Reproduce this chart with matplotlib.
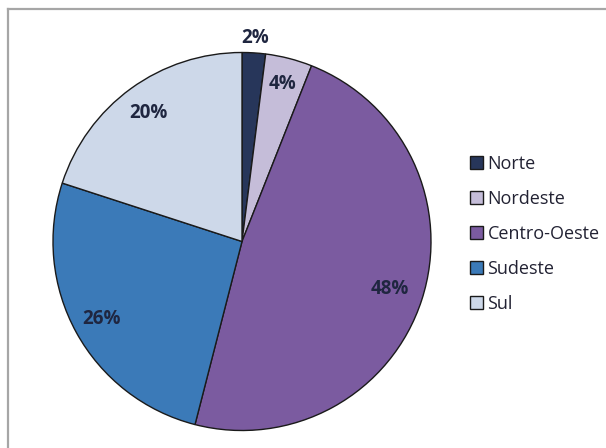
import numpy as np
import matplotlib
matplotlib.use("Agg")
import matplotlib.pyplot as plt
from matplotlib.lines import Line2D

# data
REGIONS = ["Norte", "Nordeste", "Centro-Oeste", "Sudeste", "Sul"]
SHARES = [2, 4, 48, 26, 20]

# style
COLORS = ["#27365a", "#c5bdd9", "#7b5ba0", "#3b7ab8", "#cdd8e9"]
LABEL_DIST = [1.08, 0.86, 0.82, 0.85, 0.84]
TEXT_COLOR = "#1f2640"
FIG_W, FIG_H = 606, 448
DPI = 100

plt.rcParams["font.family"] = ["Open Sans", "DejaVu Sans"]

fig = plt.figure(figsize=(FIG_W / DPI, FIG_H / DPI), dpi=DPI)
fig.patch.set_facecolor("white")

# frame: only top and left edges are visible (cropped screenshot)
fx, fy = 7.5 / FIG_W, 1 - 9.5 / FIG_H
fig.add_artist(Line2D([fx, 1], [fy, fy], transform=fig.transFigure,
                      color="#a6a6a6", linewidth=1.6))
fig.add_artist(Line2D([fx, fx], [0, fy], transform=fig.transFigure,
                      color="#a6a6a6", linewidth=1.6))

# pie occupies a square box centred at (242, 241.5) px, radius 189 px
cx, cy, r = 242, 241.5, 189
ax = fig.add_axes([(cx - r) / FIG_W, (FIG_H - cy - r) / FIG_H,
                   2 * r / FIG_W, 2 * r / FIG_H])
wedges, _ = ax.pie(
    SHARES,
    colors=COLORS,
    startangle=90,
    counterclock=False,
    radius=1,
    wedgeprops=dict(edgecolor="#1a1a1a", linewidth=1.0),
)
ax.set_xlim(-1, 1)
ax.set_ylim(-1, 1)
ax.set_aspect("equal")
ax.axis("off")

for w, val, d in zip(wedges, SHARES, LABEL_DIST):
    ang = np.deg2rad((w.theta1 + w.theta2) / 2)
    ax.text(d * np.cos(ang), d * np.sin(ang), f"{val}%",
            ha="center", va="center", fontsize=13.5, fontweight="bold",
            color=TEXT_COLOR, clip_on=False)

fig.legend(
    wedges, REGIONS,
    loc="upper left",
    bbox_to_anchor=(454 / FIG_W, 1 - 138.5 / FIG_H),
    frameon=False,
    fontsize=13,
    handlelength=0.7,
    handleheight=0.7,
    handletextpad=0.25,
    labelspacing=0.94,
    labelcolor="#222233",
)

fig.savefig("out.png", dpi=DPI, facecolor="white")
